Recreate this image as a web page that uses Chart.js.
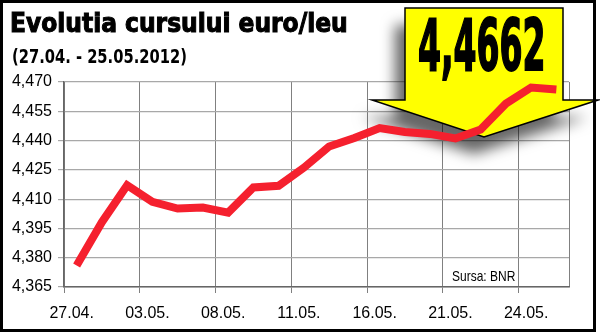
<!DOCTYPE html>
<html>
<head>
<meta charset="utf-8">
<script src="https://cdn.jsdelivr.net/npm/chart.js@4/dist/chart.umd.min.js"></script>
<style>
  html, body { margin: 0; padding: 0; background: #fff; }
  #wrap { position: relative; width: 600px; height: 334px; overflow: hidden; }
  #frame { position: absolute; left: 0; top: 0; width: 590px; height: 326px; border: 3px solid #000; }
  #chart { position: absolute; left: 0; top: 0; }
  .txt { position: absolute; white-space: nowrap; color: #000; line-height: normal; transform-origin: 0 0; font-family: "DejaVu Sans Condensed", "Liberation Sans", sans-serif; }
  #title { left: 10px; top: 8px; font-size: 26px; font-weight: bold; -webkit-text-stroke: 1px #000; }
  #subtitle { left: 12px; top: 45px; font-size: 19px; font-weight: bold; transform: scaleX(0.86); }
  #value { left: 418px; top: 3px; font-size: 72px; font-weight: bold; -webkit-text-stroke: 2px #000; transform: scaleX(0.51); }
  #source { left: 452px; top: 267px; font-size: 15px; font-family: "Liberation Sans", sans-serif; transform: scaleX(0.8); }
</style>
</head>
<body>
<div id="wrap">
  <div id="frame"></div>
  <canvas id="chart" width="600" height="334"></canvas>
  <div class="txt" id="title">Evolutia cursului euro/leu</div>
  <div class="txt" id="subtitle">(27.04. - 25.05.2012)</div>
  <div class="txt" id="value">4,4662</div>
  <div class="txt" id="source">Sursa: BNR</div>
</div>
<script>
// BNR euro/leu, trading days 27.04 - 25.05.2012
const dates = ['27.04.', '30.04.', '02.05.', '03.05.', '04.05.', '07.05.', '08.05.', '09.05.', '10.05.', '11.05.',
    '14.05.', '15.05.', '16.05.', '17.05.', '18.05.', '21.05.', '22.05.', '23.05.', '24.05.', '25.05.'];
const rates = [4.3760, 4.3982, 4.4171, 4.4086, 4.4052, 4.4057, 4.4031, 4.4160, 4.4168, 4.4261,
    4.4370, 4.4413, 4.4464, 4.4444, 4.4434, 4.4411, 4.4457, 4.4589, 4.4672, 4.4662];
const tickLabels = ['27.04.', '03.05.', '08.05.', '11.05.', '16.05.', '21.05.', '24.05.'];
const yTicks = [4.365, 4.380, 4.395, 4.410, 4.425, 4.440, 4.455, 4.470];

const FONT = '"Liberation Sans", Arial, sans-serif';

function isLabelled(i) {
    return i === undefined || tickLabels.includes(dates[i]);
}

// yellow arrow behind the line
const arrowPlugin = {
    id: 'arrow',
    beforeDatasetsDraw(chart) {
        const ctx = chart.ctx;
        ctx.save();
        ctx.beginPath();
        ctx.moveTo(405, 8);
        ctx.lineTo(563, 8);
        ctx.lineTo(563, 100);
        ctx.lineTo(598, 100);
        ctx.lineTo(484, 137);
        ctx.lineTo(372, 100);
        ctx.lineTo(405, 100);
        ctx.closePath();
        ctx.shadowColor = 'rgba(0, 0, 0, 0.6)';
        ctx.shadowBlur = 14;
        ctx.shadowOffsetX = -10;
        ctx.shadowOffsetY = 17;
        ctx.fillStyle = '#ffff00';
        ctx.fill();
        ctx.shadowColor = 'transparent';
        ctx.lineWidth = 1.5;
        ctx.strokeStyle = '#000';
        ctx.stroke();
        ctx.restore();
    }
};

new Chart(document.getElementById('chart'), {
    type: 'line',
    data: {
        labels: dates,
        datasets: [{
            data: rates,
            borderColor: '#f5202e',
            borderWidth: 8,
            pointRadius: 0,
            tension: 0,
            borderJoinStyle: 'miter',
        }],
    },
    options: {
        responsive: false,
        animation: false,
        events: [],
        layout: {
            padding: { left: 0, top: 82, right: 31, bottom: 0 },
        },
        plugins: {
            legend: { display: false },
            tooltip: { enabled: false },
        },
        scales: {
            x: {
                offset: true,
                afterFit: function(s) { s.height = 47; },
                border: { color: '#666', width: 1.5 },
                grid: {
                    offset: true,
                    color: ctx => isLabelled(ctx.index) ? '#808080' : 'transparent',
                    tickColor: ctx => (ctx.index !== undefined && tickLabels.includes(dates[ctx.index])) ? '#808080' : 'transparent',
                    tickLength: 6,
                },
                ticks: {
                    autoSkip: false,
                    maxRotation: 0,
                    padding: 11,
                    labelOffset: -5,
                    color: '#000',
                    font: { family: FONT, size: 16 },
                    callback: function(v, i) { return tickLabels.includes(dates[i]) ? dates[i] : ''; },
                },
            },
            y: {
                min: 4.365,
                max: 4.470,
                afterFit: function(s) { s.width = 64; },
                afterBuildTicks: function(s) { s.ticks = yTicks.map(v => ({ value: v })); },
                border: { color: '#666', width: 1.5 },
                grid: {
                    color: '#a8a8a8',
                    lineWidth: 1.2,
                    tickLength: 6,
                },
                ticks: {
                    padding: 6,
                    color: '#000',
                    font: { family: FONT, size: 16 },
                    callback: v => v.toFixed(3).replace('.', ','),
                },
            },
        },
    },
    plugins: [arrowPlugin],
});
</script>
</body>
</html>
